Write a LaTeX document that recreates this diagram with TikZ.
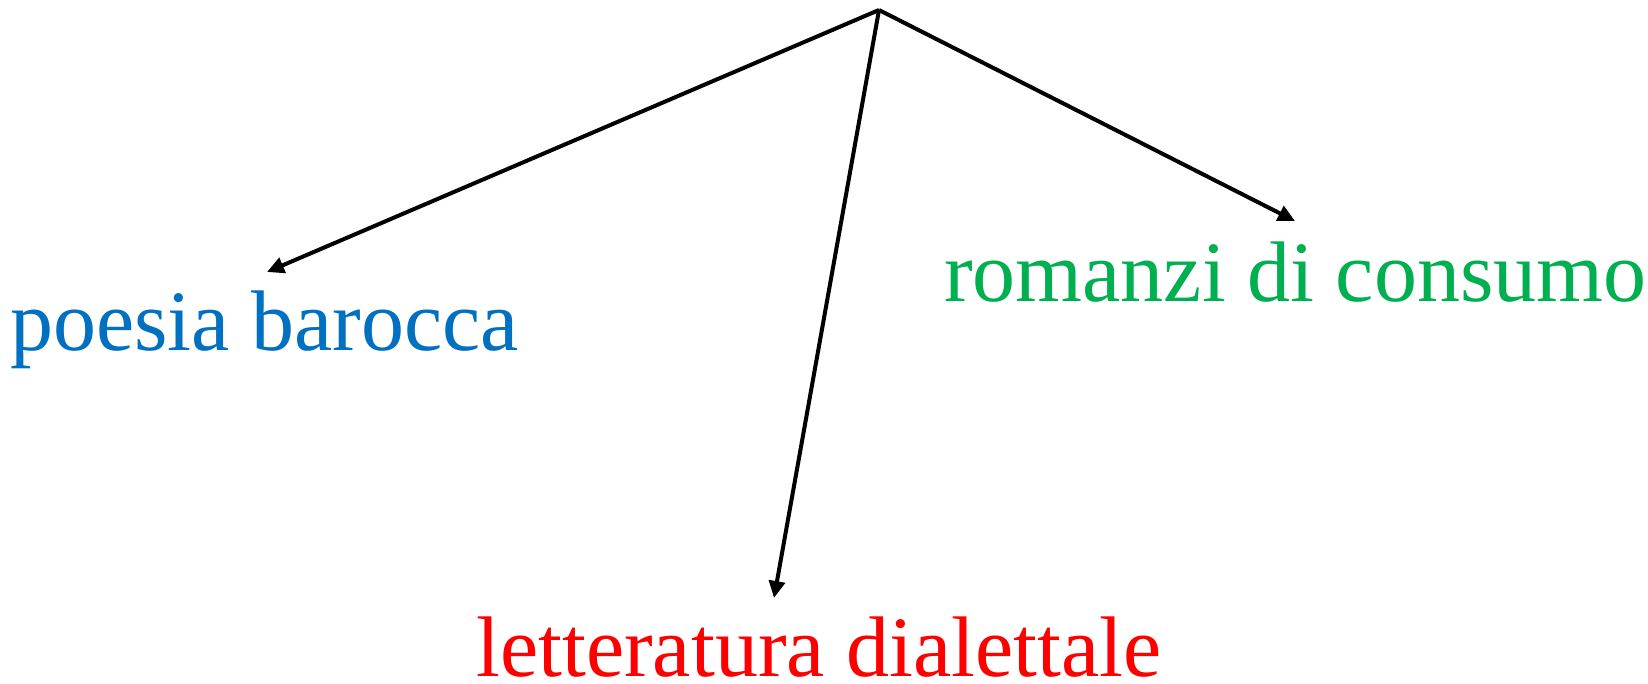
\documentclass[tikz,border=0pt]{standalone}
\usepackage{fontspec}
\setmainfont{Liberation Serif}
\usetikzlibrary{arrows.meta}
\definecolor{pbblue}{RGB}{0,112,192}
\definecolor{rcgreen}{RGB}{0,176,80}
\definecolor{ldred}{RGB}{255,0,0}
\tikzset{
  lbl/.style={anchor=base west, inner sep=0pt, font=\fontsize{86}{86}\selectfont},
  conn/.style={line width=4pt, -{Triangle[length=17pt,width=16pt]}}
}
\begin{document}
\begin{tikzpicture}[x=1pt,y=-1pt]
\useasboundingbox (0,0) rectangle (1648,684);
\coordinate (top) at (879,10);
\coordinate (pbend) at (267,272);
\coordinate (rcend) at (1295,221);
\coordinate (ldend) at (774,598);
\node[lbl, text=pbblue] (pb) at (10,350) {poesia barocca};
\node[lbl, text=rcgreen] (rc) at (944,302) {romanzi di consumo};
\node[lbl, text=ldred, text depth=0pt] (ld) at (476,676) {letteratura dialettale};
\draw[conn] (top) -- (pbend);
\draw[conn] (top) -- (rcend);
\draw[conn] (top) -- (ldend);
\end{tikzpicture}
\end{document}
